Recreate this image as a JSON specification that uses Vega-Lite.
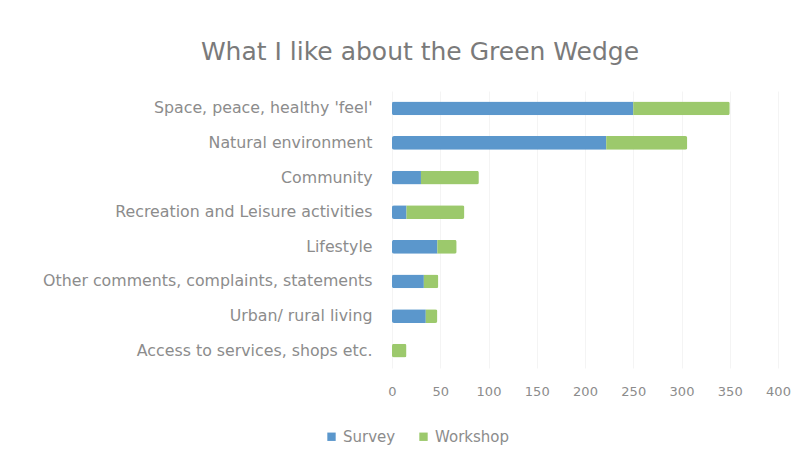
{
  "$schema": "https://vega.github.io/schema/vega-lite/v6.json",
  "width": 386,
  "height": 277,
  "autosize": {"type": "none"},
  "padding": {"left": 392, "top": 91, "right": 19, "bottom": 81},
  "background": "white",
  "title": {
    "text": "What I like about the Green Wedge",
    "anchor": "middle",
    "frame": "group",
    "dx": -165,
    "offset": 26,
    "fontSize": 25,
    "font": "DejaVu Sans",
    "fontWeight": "normal",
    "color": "#7a7a7a"
  },
  "config": {
    "view": {"stroke": null},
    "font": "DejaVu Sans"
  },
  "data": {
    "values": [
      {"category": "Space, peace, healthy 'feel'", "series": "Survey", "value": 250},
      {"category": "Space, peace, healthy 'feel'", "series": "Workshop", "value": 100},
      {"category": "Natural environment", "series": "Survey", "value": 222},
      {"category": "Natural environment", "series": "Workshop", "value": 84},
      {"category": "Community", "series": "Survey", "value": 30},
      {"category": "Community", "series": "Workshop", "value": 60},
      {"category": "Recreation and Leisure activities", "series": "Survey", "value": 15},
      {"category": "Recreation and Leisure activities", "series": "Workshop", "value": 60},
      {"category": "Lifestyle", "series": "Survey", "value": 47},
      {"category": "Lifestyle", "series": "Workshop", "value": 20},
      {"category": "Other comments, complaints, statements", "series": "Survey", "value": 33},
      {"category": "Other comments, complaints, statements", "series": "Workshop", "value": 15},
      {"category": "Urban/ rural living", "series": "Survey", "value": 35},
      {"category": "Urban/ rural living", "series": "Workshop", "value": 12},
      {"category": "Access to services, shops etc.", "series": "Survey", "value": 0},
      {"category": "Access to services, shops etc.", "series": "Workshop", "value": 15}
    ]
  },
  "mark": {"type": "bar", "cornerRadius": 2},
  "encoding": {
    "y": {
      "field": "category",
      "type": "nominal",
      "sort": ["Space, peace, healthy 'feel'", "Natural environment", "Community", "Recreation and Leisure activities", "Lifestyle", "Other comments, complaints, statements", "Urban/ rural living", "Access to services, shops etc."],
      "scale": {"paddingInner": 0.6, "paddingOuter": 0.3},
      "axis": {
        "title": null,
        "domain": false,
        "ticks": false,
        "labelPadding": 20,
        "labelFontSize": 15.8,
        "labelColor": "#8c8c8c",
        "labelLimit": 400
      }
    },
    "x": {
      "field": "value",
      "type": "quantitative",
      "stack": "zero",
      "scale": {"domain": [0, 400], "nice": false},
      "axis": {
        "title": null,
        "values": [0, 50, 100, 150, 200, 250, 300, 350, 400],
        "domain": false,
        "ticks": false,
        "grid": true,
        "gridColor": "#f4f4f4",
        "labelPadding": 17,
        "labelFontSize": 13,
        "labelColor": "#8c8c8c",
        "labelFlush": false
      }
    },
    "color": {
      "field": "series",
      "type": "nominal",
      "scale": {"domain": ["Survey", "Workshop"], "range": ["#5b97cc", "#9cc96c"]},
      "legend": {
        "title": null,
        "orient": "none",
        "direction": "horizontal",
        "legendX": -68,
        "legendY": 338,
        "symbolType": "square",
        "symbolSize": 70,
        "labelFontSize": 15,
        "labelColor": "#8c8c8c",
        "columnPadding": 20
      }
    },
    "order": {"field": "series", "type": "nominal", "sort": "ascending"}
  }
}
